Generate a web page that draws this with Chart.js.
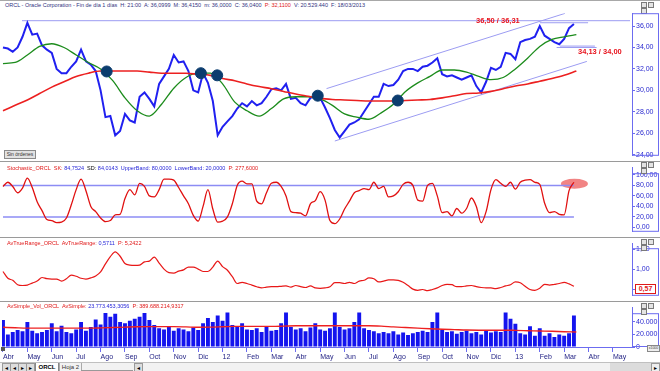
<!DOCTYPE html>
<html>
<head>
<meta charset="utf-8">
<script src="https://cdn.jsdelivr.net/npm/chart.js@4.4.0/dist/chart.umd.min.js"></script>
<style>
  body { margin: 0; width: 660px; height: 371px; overflow: hidden; background: #fff; position: relative; font-family: Arial, "Liberation Sans", sans-serif; }
  .panel { position: absolute; left: 0; width: 660px; }
  .panel canvas { display: block; }
  .sep { position: absolute; left: 0; width: 660px; height: 1px; background: #9a9a9a; }
  .txt { position: absolute; white-space: nowrap; font-size: 5.5px; line-height: 6px; }
  .rojo { color: #e01818; }
  .azul { color: #2626d8; }
  .btns { position: absolute; left: 641px; width: 18px; height: 5px; }
  .btns span { float: left; width: 4px; height: 4px; margin-right: 1px; border: 1px solid #7a7a7a; background: #e4e4e4; }
  .nota { position: absolute; white-space: nowrap; font-size: 7.5px; font-weight: bold; color: #e8141e; }
</style>
</head>
<body>

<div style="position:absolute;top:0;left:0;width:660px;height:1px;background:#a8a8a8"></div>
<div class="txt" style="top:2px;left:5px;color:#333380">ORCL - Oracle Corporation - Fin de día 1 días&nbsp; H: 21:00&nbsp; A: 36,0999&nbsp; M: 36,4150&nbsp; m: 36,0000&nbsp; C: 36,0400&nbsp; <span class="rojo">P: 32,1100</span>&nbsp; V: 20.529.440&nbsp; F: 18/03/2013</div>
<div class="btns" style="top:2px"><span></span><span></span><span></span></div>

<div class="panel" style="top:8px;height:153px"><canvas id="cPrecio" width="660" height="153"></canvas></div>
<div class="sep" style="top:161px"></div>
<div class="panel" style="top:162px;height:75px"><canvas id="cStoch" width="660" height="75"></canvas></div>
<div class="sep" style="top:237px"></div>
<div class="panel" style="top:238px;height:63px"><canvas id="cAtr" width="660" height="63"></canvas></div>
<div class="sep" style="top:301px"></div>
<div class="panel" style="top:302px;height:60px"><canvas id="cVol" width="660" height="60"></canvas></div>

<div class="btns" style="top:162px"><span></span><span></span><span></span></div>
<div class="btns" style="top:238.5px"><span></span><span></span><span></span></div>
<div class="btns" style="top:302.5px"><span></span><span></span><span></span></div>

<div class="nota" style="left:476px;top:16px">36,50 / 36,31</div>
<div class="nota" style="left:578px;top:47px">34,13 / 34,00</div>
<div style="position:absolute;left:4px;top:150px;width:30px;height:7px;background:#e2e2e2;border:1px solid #8a8a8a;font-size:5px;line-height:7px;text-align:center;color:#333">Sin órdenes</div>

<div class="txt" style="top:165px;left:7px"><span class="rojo">Stochastic_ORCL&nbsp; SK:</span> <span class="azul">84,7524</span>&nbsp; SD: <span class="azul">84,0143&nbsp; UpperBand: 80,0000&nbsp; LowerBand: 20,0000</span>&nbsp; <span class="rojo">P: 277,6000</span></div>
<div class="txt" style="top:239.5px;left:7px"><span class="rojo">AvTrueRange_ORCL&nbsp; AvTrueRange:</span> <span class="azul">0,5711</span>&nbsp; <span class="rojo">P: 5,2422</span></div>
<div class="txt" style="top:303px;left:7px"><span class="rojo">AvSimple_Vol_ORCL&nbsp; AvSimple:</span> <span class="azul">23.773.453,3056</span>&nbsp; <span class="rojo">P: 389.688.214,9317</span></div>

<div style="position:absolute;left:635px;top:284px;width:19px;height:8px;border:1px solid #e01818;background:#fff;color:#e01818;font-size:7px;font-weight:bold;line-height:8px;text-align:center">0,57</div>
<div style="position:absolute;left:647px;top:345px;width:11px;height:5px;border:1px solid #888;background:#eee;font-size:3.5px;line-height:5px;text-align:center;color:#444">x1000</div>
<div style="position:absolute;left:1px;top:347px;width:4px;height:4px;background:#555"></div>

<div style="position:absolute;top:362px;left:0;width:660px;height:9px;background:#f2f2f2;border-top:1px solid #c0c0c0;font-size:6px;line-height:8px">
  <div style="position:absolute;left:2px;top:0;width:7px;height:7px;border:1px solid #999;background:#ddd;text-align:center">◂</div>
  <div style="position:absolute;left:10px;top:0;width:7px;height:7px;border:1px solid #999;background:#ddd;text-align:center">◂</div>
  <div style="position:absolute;left:18px;top:0;width:7px;height:7px;border:1px solid #999;background:#ddd;text-align:center">▸</div>
  <div style="position:absolute;left:26px;top:0;width:7px;height:7px;border:1px solid #999;background:#ddd;text-align:center">▸</div>
  <div style="position:absolute;left:35px;top:0;width:22px;height:8px;background:#fff;border:1px solid #888;border-top:none;font-weight:bold;text-align:center">ORCL</div>
  <div style="position:absolute;left:59px;top:0;width:21px;height:8px;border:1px solid #aaa;border-top:none;text-align:center;color:#333">Hoja 2</div>
  <div style="position:absolute;left:81px;top:7px;width:52px;height:1px;background:#999"></div>
  <div style="position:absolute;left:134px;top:0;width:7px;height:7px;border:1px solid #999;background:#ddd;text-align:center">◂</div>
  <div style="position:absolute;left:610px;top:0;width:50px;height:8px;background:#dcdcdc"></div>
  <div style="position:absolute;left:651px;top:0;width:7px;height:7px;border:1px solid #999;background:#eee;text-align:center">▸</div>
</div>

<script>
// eje X en meses desde abril 2011; muestras cada 0,2 meses (~1 semana)
const PASO = 0.2;
const PASO_MEDIAS = 0.5;

const meses = ['Abr','May','Jun','Jul','Ago','Sep','Oct','Nov','Dic','12','Feb','Mar',
               'Abr','May','Jun','Jul','Ago','Sep','Oct','Nov','Dic','13','Feb','Mar','Abr','May'];

const ticksPrecio = [24, 26, 28, 30, 32, 34, 36];
const ticksStoch = [0, 20, 40, 60, 80, 100];
const ticksAtr = [0.5, 1, 1.5];
const ticksVol = [0, 20, 40];

const precio = [34.0,33.9,33.6,34.0,35.0,36.3,35.2,35.3,34.2,33.8,
  33.5,32.0,31.6,31.6,32.2,32.7,33.8,32.7,32.4,31.8,
  30.0,27.5,27.6,25.8,26.2,27.8,27.2,27.0,29.4,29.8,
  29.2,28.5,30.6,31.3,32.0,33.3,32.6,32.7,31.8,30.0,
  29.8,31.6,30.7,29.0,25.8,26.6,27.1,27.6,28.3,28.8,
  28.5,29.0,28.6,28.8,29.4,30.1,30.2,30.0,30.6,29.2,
  29.3,28.8,28.6,29.3,29.4,29.3,28.4,27.4,26.3,25.6,
  26.2,26.8,27.0,27.3,28.0,28.7,29.4,29.4,30.6,30.4,
  30.5,31.0,31.8,32.0,32.0,31.8,32.2,32.3,32.6,33.0,
  31.5,31.3,31.4,31.2,31.0,31.2,31.4,30.4,29.8,30.8,
  32.1,31.9,32.2,33.5,33.4,32.9,34.5,34.7,34.8,35.0,
  36.0,35.1,34.8,34.5,34.3,34.8,35.8,36.2];

const mediaCorta = [32.5,32.6,33.3,34.1,34.35,34.0,33.3,32.6,32.0,30.9,29.3,28.1,
  27.6,28.7,30.2,31.2,31.6,31.6,30.6,28.9,28.1,27.6,28.3,29.2,
  29.4,29.4,29.2,28.6,27.8,27.5,27.3,27.9,28.7,29.9,30.7,31.3,
  31.9,31.9,31.7,31.3,31.0,31.2,32.0,33.0,34.1,34.75,35.0,35.2];

const mediaLarga = [28.1,28.6,29.1,29.7,30.3,30.8,31.3,31.6,31.8,31.8,31.8,31.8,
  31.7,31.6,31.6,31.6,31.5,31.4,31.1,30.9,30.6,30.35,30.15,29.9,
  29.65,29.45,29.25,29.15,29.1,29.05,29.0,29.0,29.0,29.05,29.1,29.15,
  29.3,29.5,29.7,29.75,29.9,30.15,30.4,30.6,30.85,31.1,31.4,31.8];

// cruces de medias (mes, precio)
const crucesMes = [4.25, 8.11, 8.78, 12.9, 16.18];
const crucesValor = [31.76, 31.6, 31.4, 29.5, 29.05];

// lineas de canal y soporte/resistencia: [mesIni, valorIni, mesFin, valorFin]
const canales = [
  [0.78, 36.5, 25.7, 36.5],
  [22.0, 36.31, 23.98, 36.31],
  [22.83, 34.13, 24.26, 34.13],
  [22.69, 34.0, 24.33, 34.0],
  [13.26, 30.16, 23.03, 37.18],
  [13.6, 25.27, 23.93, 32.7]
];

const stochK = [78,86,78,66,75,94,76,49,32,15,
  13,9,10,18,43,72,92,70,40,30,
  18,11,13,24,25,55,72,62,84,78,
  60,58,72,92,92,90,76,60,45,23,
  12,40,72,35,10,12,20,45,80,88,
  83,83,50,45,66,84,86,78,60,30,
  28,27,22,45,51,68,52,13,7,16,
  35,50,66,70,74,72,86,74,78,58,
  60,68,82,86,80,52,50,80,84,60,
  28,30,22,36,27,36,56,40,9,30,
  72,91,84,78,86,73,86,90,91,86,
  82,46,28,30,25,24,70,86];
const bandaSup = 80;
const bandaInf = 20;

const atr = [0.94,0.77,0.72,0.61,0.59,0.60,0.65,0.70,0.79,0.76,
  0.75,0.75,0.70,0.76,0.85,0.82,0.77,0.75,0.78,0.83,
  0.93,1.13,1.31,1.43,1.32,1.14,1.10,1.09,1.10,1.18,
  1.20,1.30,1.15,1.00,0.91,0.90,0.95,0.98,1.05,1.05,
  1.00,0.94,0.94,1.05,1.20,1.06,0.97,0.81,0.64,0.67,
  0.64,0.60,0.56,0.53,0.55,0.56,0.56,0.57,0.58,0.55,
  0.59,0.56,0.54,0.58,0.53,0.52,0.53,0.56,0.66,0.66,
  0.64,0.67,0.64,0.70,0.72,0.78,0.76,0.68,0.70,0.73,
  0.73,0.72,0.67,0.59,0.50,0.47,0.49,0.46,0.49,0.53,
  0.59,0.62,0.61,0.56,0.56,0.58,0.59,0.56,0.54,0.53,
  0.53,0.51,0.54,0.58,0.61,0.68,0.66,0.57,0.49,0.47,
  0.52,0.62,0.60,0.62,0.64,0.67,0.63,0.57];

// volumen en millones de acciones
const volumen = [43,20,24,27,25,40,26,22,24,27,
  38,25,34,24,22,28,40,26,32,44,
  36,54,48,53,40,38,42,45,48,54,
  43,35,30,28,32,26,30,28,25,31,
  27,38,46,40,50,42,55,35,32,38,
  28,27,30,24,33,26,27,38,55,32,
  28,30,25,31,38,28,26,30,55,32,
  28,30,40,55,30,27,25,22,24,22,
  25,20,23,19,22,24,26,24,40,55,
  27,24,25,21,24,26,22,24,20,26,
  23,25,24,55,45,37,22,20,33,18,
  30,18,22,16,20,18,22,50];

const volMedia = [31.4,30.6,30.0,30.0,30.0,30.0,30.0,30.0,30.4,31.0,31.6,32.2,
  32.4,32.4,32.4,32.0,31.4,31.6,32.2,32.8,32.8,32.8,32.8,33.2,
  33.8,33.8,33.8,33.8,33.8,33.8,33.8,33.2,32.0,31.0,30.0,29.0,
  28.2,27.6,27.0,26.8,26.8,26.8,26.5,26.0,25.5,25.0,24.4,23.9];

const FIN_DATOS = (precio.length - 1) * PASO;

Chart.defaults.font.family = 'Arial, "Liberation Sans", sans-serif';
Chart.defaults.font.size = 7;

const AZUL_EJE = '#6c6cf0';

function serie(valores, paso) {
  return valores.map((v, i) => ({ x: i * paso, y: v }));
}

function coma(dec) {
  return v => v.toFixed(dec).replace('.', ',');
}

function miles(v) {
  return String(Math.round(v * 1000)).replace(/\B(?=(\d{3})+(?!\d))/g, '.');
}

function ejeX(mostrar) {
  return {
    type: 'linear', min: -0.04, max: 25.78, offset: false, display: mostrar,
    afterBuildTicks: s => { s.ticks = meses.map((_, i) => ({ value: i })); },
    afterFit: s => { s.height = mostrar ? 15 : 0; },
    grid: { drawOnChartArea: false, tickLength: 5, color: AZUL_EJE, offset: false },
    border: { display: true, color: AZUL_EJE },
    ticks: { autoSkip: false, maxRotation: 0, align: 'start', padding: 1, color: '#1c1c80', callback: v => meses[v] }
  };
}

function ejeY(min, max, valores, formato) {
  return {
    position: 'right', min: min, max: max,
    afterFit: s => { s.width = 28; },
    afterBuildTicks: s => { s.ticks = valores.map(v => ({ value: v })); },
    grid: { drawOnChartArea: false, drawTicks: true, tickLength: 3, color: AZUL_EJE },
    border: { display: true, color: AZUL_EJE },
    ticks: { autoSkip: false, callback: formato, color: '#2a2ad0', padding: 1 }
  };
}

// recuadro de la columna del eje derecho
function cajaEje(margen) {
  return {
    id: 'cajaEje',
    afterDraw(chart) {
      const a = chart.chartArea;
      const ctx = chart.ctx;
      ctx.save();
      ctx.strokeStyle = AZUL_EJE;
      ctx.lineWidth = 1;
      ctx.strokeRect(a.right + 0.5, a.top + margen + 0.5, chart.width - a.right - 2, a.bottom - a.top - margen - 1);
      ctx.restore();
    }
  };
}

function crearPanel(id, datasets, ejeVertical, conFechas, padding, plugins) {
  return new Chart(document.getElementById(id), {
    type: 'line',
    data: { datasets: datasets },
    options: {
      responsive: false,
      animation: false,
      events: [],
      layout: { padding: padding, autoPadding: false },
      plugins: { legend: { display: false }, tooltip: { enabled: false } },
      elements: { point: { radius: 0 } },
      scales: { x: ejeX(conFechas), y: ejeVertical }
    },
    plugins: plugins
  });
}

function linea(data, color, ancho, orden, extra) {
  return Object.assign({ data: data, borderColor: color, borderWidth: ancho, pointRadius: 0, fill: false, order: orden }, extra || {});
}

// ---- precio
const dsPrecio = canales.map(c => linea([{ x: c[0], y: c[1] }, { x: c[2], y: c[3] }], '#9c9cf2', 1, 6));
dsPrecio.push(linea(serie(precio, PASO), '#2020f0', 2, 4));
dsPrecio.push(linea(serie(mediaCorta, PASO_MEDIAS), '#1c8c1c', 1.3, 3, { cubicInterpolationMode: 'monotone' }));
dsPrecio.push(linea(serie(mediaLarga, PASO_MEDIAS), '#ec2020', 1.6, 2, { cubicInterpolationMode: 'monotone' }));
dsPrecio.push({
  data: crucesMes.map((m, i) => ({ x: m, y: crucesValor[i] })),
  showLine: false, pointRadius: 5.5, pointBackgroundColor: '#0b3c6e', pointBorderColor: '#0b3c6e', order: 0
});
crearPanel('cPrecio', dsPrecio, ejeY(23.89, 37.2, ticksPrecio, coma(2)), false,
  { left: 2, top: 0, bottom: 1, right: 0 }, [cajaEje(0)]);

// ---- estocastico
const elipse = {
  id: 'elipse',
  beforeDatasetsDraw(chart) {
    const x = chart.scales.x.getPixelForValue(FIN_DATOS + 0.02);
    const y = chart.scales.y.getPixelForValue(83);
    const ctx = chart.ctx;
    ctx.save();
    ctx.fillStyle = 'rgba(238,110,110,0.85)';
    ctx.beginPath();
    ctx.ellipse(x, y, 13.5, 5, 0, 0, Math.PI * 2);
    ctx.fill();
    ctx.restore();
  }
};
crearPanel('cStoch', [
  linea([{ x: 0, y: bandaSup }, { x: FIN_DATOS, y: bandaSup }], '#8c8cf4', 1.5, 3),
  linea([{ x: 0, y: bandaInf }, { x: FIN_DATOS, y: bandaInf }], '#8c8cf4', 1.5, 3),
  linea(serie(stochK, PASO), '#e01010', 1.3, 1, { cubicInterpolationMode: 'monotone' })
], ejeY(-8.4, 114.7, ticksStoch, coma(2)), false, { left: 2, top: 1, bottom: 1, right: 0 }, [cajaEje(6), elipse]);

// ---- average true range
crearPanel('cAtr', [
  linea(serie(atr, PASO), '#e81818', 1.2, 1, { cubicInterpolationMode: 'monotone' })
], ejeY(0.333, 1.646, ticksAtr, coma(2)), false, { left: 2, top: 0, bottom: 0, right: 0 }, [cajaEje(5)]);

// ---- volumen
crearPanel('cVol', [
  { type: 'bar', data: serie(volumen, PASO), backgroundColor: '#1414ee', barPercentage: 0.8, categoryPercentage: 1, order: 2 },
  linea(serie(volMedia, PASO_MEDIAS), '#ee2020', 1.4, 0, { cubicInterpolationMode: 'monotone' })
], Object.assign(ejeY(0, 63.4, ticksVol, miles), { beginAtZero: true }), true,
  { left: 2, top: 0, bottom: 0, right: 0 }, [cajaEje(6)]);
</script>
</body>
</html>
